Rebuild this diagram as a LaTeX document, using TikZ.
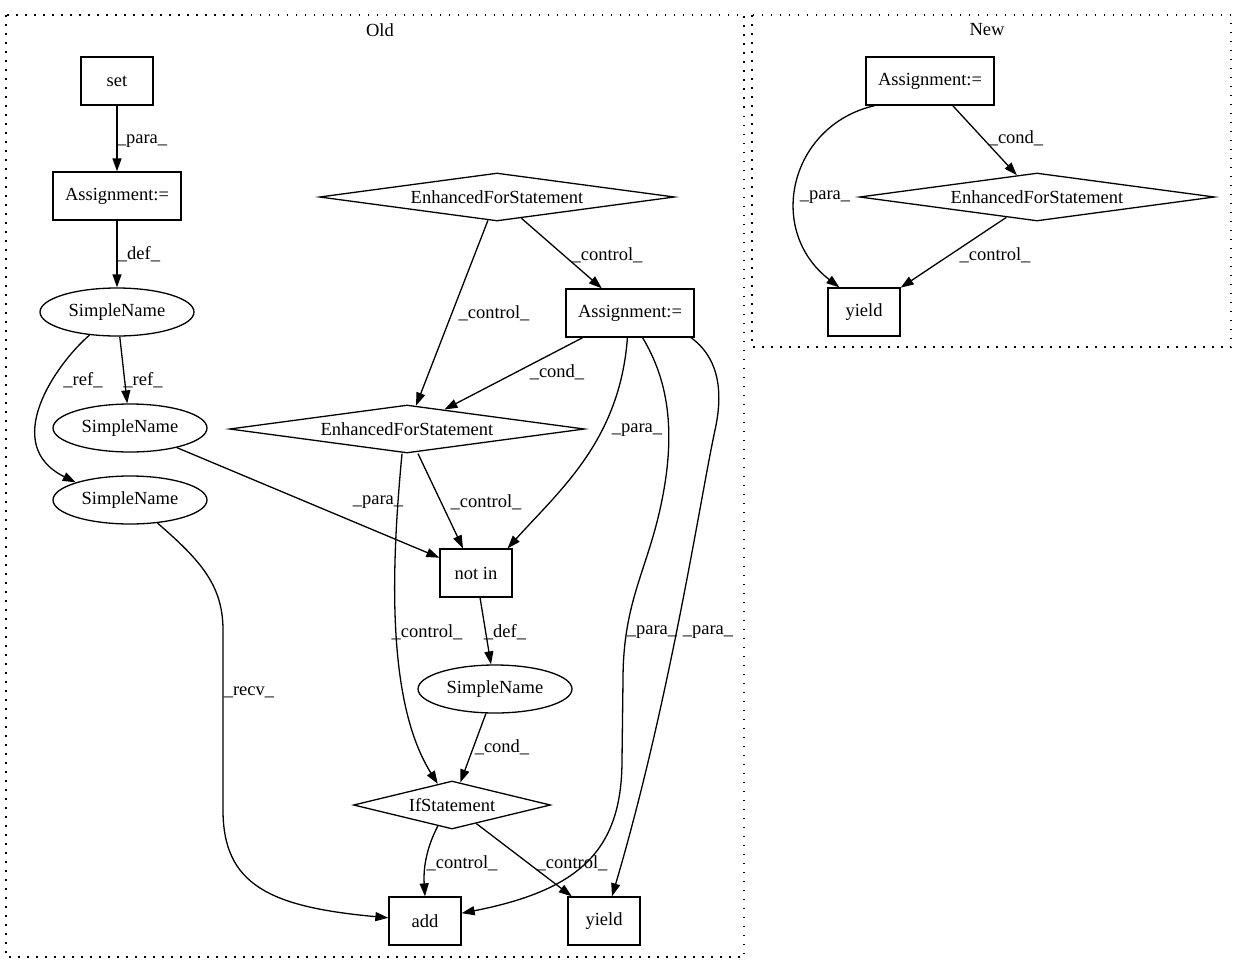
\documentclass[tikz,border=0pt]{standalone}
\usepackage{fontspec}
\setmainfont{Liberation Serif}
\usetikzlibrary{arrows.meta,shapes.geometric}

\begin{document}
\begin{tikzpicture}[x=1pt, y=-1pt, >={Triangle[length=13pt,width=9pt]},
    font=\fontsize{18.5}{22}\selectfont, line width=1.3pt,
    box/.style={draw, rectangle, minimum width=72pt, minimum height=48pt, inner xsep=12pt},
    oval/.style={draw, ellipse, minimum width=154pt, minimum height=48pt, inner sep=0pt},
    choice/.style={draw, diamond, aspect=7, inner sep=0pt, minimum height=48pt},
    cluster/.style={draw, dash pattern=on 1.5pt off 7.5pt},
    lbl/.style={inner sep=0pt}]
    \useasboundingbox (0,0) rectangle (1237,972);
    % Clusters (old and new version)
    \draw[cluster] (6,15) rectangle (744,957);
    \draw[cluster] (752,15) rectangle (1231,347);
    \node (old_title) at (380,30) {Old};
    \node (new_title) at (987,30) {New};
    % Nodes (old version)
    \node[box] (old_set) at (117,81) {set};
    \node[box] (old_assign1) at (117,196) {Assignment:=};
    \node[oval] (old_name1) at (117,312) {SimpleName};
    \node[oval] (old_name2) at (130,428) {SimpleName};
    \node[oval] (old_name3) at (130,500) {SimpleName};
    \node[choice, minimum width=355pt] (old_efs1) at (497,197) {EnhancedForStatement};
    \node[box] (old_assign2) at (630,313) {Assignment:=};
    \node[choice, minimum width=355pt] (old_efs2) at (407,429) {EnhancedForStatement};
    \node[box] (old_notin) at (476,573) {not in};
    \node[oval] (old_name4) at (495,689) {SimpleName};
    \node[choice, minimum width=197pt] (old_if) at (452,805) {IfStatement};
    \node[box] (old_add) at (425,921) {add};
    \node[box] (old_yield) at (604,921) {yield};
    % Nodes (new version)
    \node[box] (new_assign) at (930,81) {Assignment:=};
    \node[choice, minimum width=355pt] (new_efs) at (1037,197) {EnhancedForStatement};
    \node[box] (new_yield) at (864,312) {yield};
    % Arrows and labels (old version)
    \draw[->] (old_set) -- (old_assign1) node[lbl] at (142,141) {\_para\_};
    \draw[->] (old_assign1) -- (old_name1) node[lbl] at (139,254) {\_def\_};
    \draw[->] (old_name1.220) .. controls (55,365) and (0,445) .. (old_name3.162) node[lbl] at (83,380) {\_ref\_};
    \draw[->] (old_name1) -- (old_name2) node[lbl] at (143,380) {\_ref\_};
    \draw[->] (old_name2) -- (old_notin) node[lbl] at (378,502) {\_para\_};
    \draw[->] (old_name3.-40) .. controls (200,560) and (223,585) .. (223,630) -- (223,810)
        .. controls (223,885) and (270,907) .. (old_add.175) node[lbl] at (249,692) {\_recv\_};
    \draw[->] (old_efs1) -- (old_assign2) node[lbl] at (607,255) {\_control\_};
    \draw[->] (old_efs1) -- (old_efs2) node[lbl] at (494,313) {\_control\_};
    \draw[->] (old_assign2) -- (old_efs2) node[lbl] at (557,372) {\_cond\_};
    \draw[->] (old_assign2.-96) .. controls (620,440) and (560,490) .. (old_notin.38) node[lbl] at (637,430) {\_para\_};
    \draw[->] (old_assign2.-63) .. controls (668,380) and (676,430) .. (662,500)
        .. controls (648,570) and (623,600) .. (623,680) -- (622,760)
        .. controls (622,850) and (580,890) .. (old_add.12) node[lbl] at (652,632) {\_para\_};
    \draw[->] (old_assign2.-22) .. controls (715,355) and (725,385) .. (715,430)
        .. controls (700,500) and (670,700) .. (old_yield.72) node[lbl] at (708,632) {\_para\_};
    \draw[->] ([xshift=11pt]old_efs2.south) -- ([xshift=-13pt]old_notin.north) node[lbl] at (486,502) {\_control\_};
    \draw[->] ([xshift=-5pt]old_efs2.south) .. controls (392,560) and (385,700) .. (old_if.124) node[lbl] at (427,632) {\_control\_};
    \draw[->] (old_notin) -- (old_name4) node[lbl] at (505,632) {\_def\_};
    \draw[->] (old_name4) -- (old_if) node[lbl] at (502,747) {\_cond\_};
    \draw[->] (old_if.-124) .. controls (428,845) and (423,865) .. (old_add.north) node[lbl] at (462,863) {\_control\_};
    \draw[->] (old_if) -- (old_yield) node[lbl] at (572,863) {\_control\_};
    % Arrows and labels (new version)
    \draw[->] (new_assign.-156) .. controls (790,125) and (765,230) .. (new_yield.135) node[lbl] at (825,197) {\_para\_};
    \draw[->] (new_assign) -- (new_efs) node[lbl] at (1016,138) {\_cond\_};
    \draw[->] (new_efs) -- (new_yield) node[lbl] at (995,255) {\_control\_};
\end{tikzpicture}
\end{document}
